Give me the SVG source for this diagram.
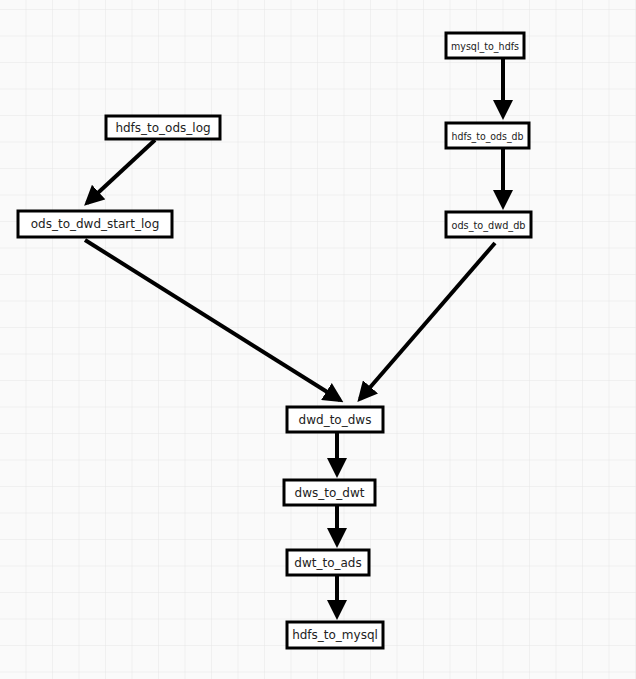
<svg xmlns="http://www.w3.org/2000/svg" width="636" height="679" viewBox="0 0 636 679">
<defs>
<pattern id="g" width="26.5" height="26.5" patternUnits="userSpaceOnUse" x="0" y="10"><path d="M26.5 0V26.5H0" fill="none" stroke="#e6e6e6" stroke-width="1"/></pattern>
<marker id="a" markerWidth="5" markerHeight="5" refX="4" refY="2.5" orient="auto" markerUnits="strokeWidth"><path d="M0 0L5 2.5L0 5z" fill="#000"/></marker>
<style>.n rect{fill:#fff;stroke:#000;stroke-width:3}.n text{font-family:"DejaVu Sans",sans-serif;font-size:12px;fill:#222;text-anchor:middle;dominant-baseline:central}.n text.s{font-size:10.5px}.c line{stroke:#000;stroke-width:4;marker-end:url(#a)}</style>
</defs>
<rect width="636" height="679" fill="#fafafa"/>
<rect width="636" height="679" fill="url(#g)"/>
<g class="c">
<line x1="155" y1="140" x2="87" y2="203"/>
<line x1="85" y1="240" x2="340" y2="400"/>
<line x1="495" y1="243" x2="360" y2="399"/>
<line x1="503" y1="59" x2="503" y2="116"/>
<line x1="503" y1="149" x2="503" y2="206"/>
<line x1="337" y1="433" x2="337" y2="474"/>
<line x1="337" y1="506" x2="337" y2="544"/>
<line x1="337" y1="576" x2="337" y2="616"/>
</g>
<g id="n1" class="n"><rect x="106" y="116" width="114" height="23"/><text x="163" y="127.5">hdfs_to_ods_log</text></g>
<g id="n2" class="n"><rect x="18" y="211" width="154" height="26"/><text x="95" y="224">ods_to_dwd_start_log</text></g>
<g id="n3" class="n"><rect x="446" y="33" width="78" height="25"/><text class="s" x="485" y="45.5" textLength="68" lengthAdjust="spacingAndGlyphs">mysql_to_hdfs</text></g>
<g id="n4" class="n"><rect x="446" y="123" width="83" height="25"/><text class="s" x="487.5" y="135.5" textLength="72" lengthAdjust="spacingAndGlyphs">hdfs_to_ods_db</text></g>
<g id="n5" class="n"><rect x="446" y="212" width="85" height="25"/><text class="s" x="488.5" y="224.5" textLength="74" lengthAdjust="spacingAndGlyphs">ods_to_dwd_db</text></g>
<g id="n6" class="n"><rect x="287" y="407" width="96" height="25"/><text x="335" y="419.5">dwd_to_dws</text></g>
<g id="n7" class="n"><rect x="284" y="480" width="91" height="25"/><text x="329.5" y="492.5">dws_to_dwt</text></g>
<g id="n8" class="n"><rect x="287" y="550" width="82" height="25"/><text x="328" y="562.5">dwt_to_ads</text></g>
<g id="n9" class="n"><rect x="287" y="622" width="96" height="26"/><text x="335" y="635">hdfs_to_mysql</text></g>
</svg>
